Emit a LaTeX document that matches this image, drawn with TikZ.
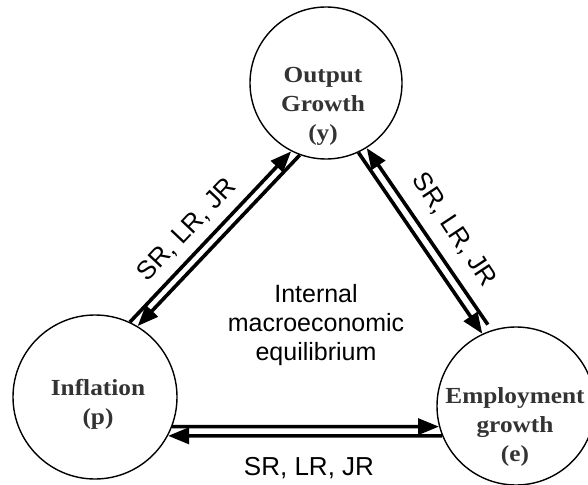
\documentclass[tikz,border=0pt]{standalone}
\usepackage{fontspec}
\setmainfont{Liberation Sans}
\newfontfamily\circfont[FakeStretch=1.1]{Liberation Serif}
\usetikzlibrary{arrows.meta}

\definecolor{titlegray}{HTML}{333333}

\begin{document}
\begin{tikzpicture}[x=1pt,y=-1pt]
	\tikzset{sector/.style={draw,circle,line width=1.4pt,inner sep=0pt},
		title/.style={align=center,inner sep=0pt,anchor=north,text=titlegray,
			font=\circfont\bfseries\fontsize{23}{29}\selectfont},
		runs/.style={inner sep=0pt,font=\fontsize{26}{29}\selectfont},
		flow/.style={line width=3.6pt,-{Triangle[length=21pt,width=16pt]}}}
	\useasboundingbox (0,0) rectangle (588,484);
	\node[sector,minimum size=152pt] (y) at (326,83) {};
	\node[sector,minimum size=164pt] (p) at (95,397) {};
	\node[sector,minimum size=158pt] (e) at (516,406) {};
	\node[title] (ytxt) at (323,67) {Output\\Growth\\(y)};
	\node[title] (ptxt) at (98,379) {Inflation\\(p)};
	\node[title] (etxt) at (515,387) {Employment\\growth\\(e)};
	\node[align=center,inner sep=0pt,anchor=north,font=\fontsize{25}{29}\selectfont]
		(mid) at (316,284) {Internal\\macroeconomic\\equilibrium};
	\node[runs,rotate=46.6] (pyruns) at (187,230) {SR, LR, JR};
	\node[runs,rotate=-56.5] (yeruns) at (454,230) {SR, LR, JR};
	\node[runs,anchor=base] (peruns) at (309,475) {SR, LR, JR};
	\path[flow]
		(p.65.4) edge (y.243)
		(y.250) edge (p.59.3)
		(y.295) edge (e.115)
		([shift={(3,-8)}]e.113) edge (y.302.4)
		(p.339) edge (e.195)
		(e.202) edge (p.332.5);
\end{tikzpicture}
\end{document}
